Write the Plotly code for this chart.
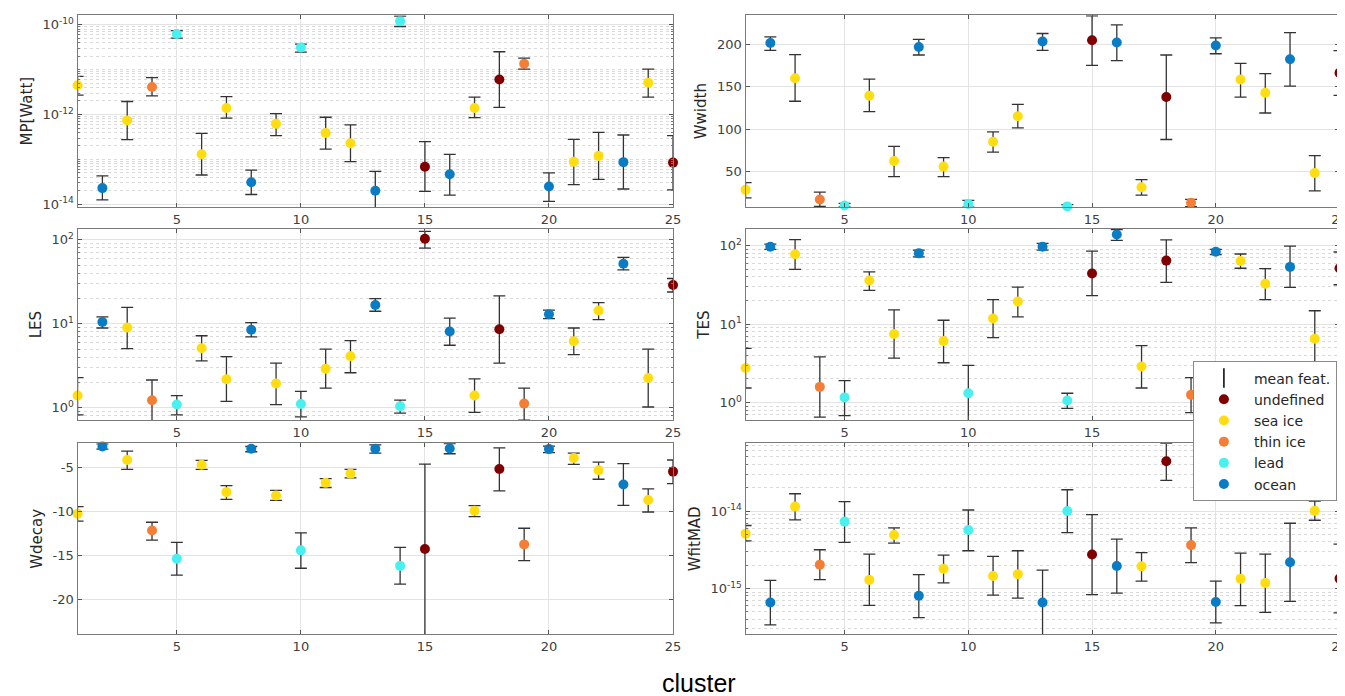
import plotly.graph_objects as go

CLUSTERS = list(range(1, 26))
CLASS = ["sea ice", "ocean", "sea ice", "thin ice", "lead", "sea ice", "sea ice", "ocean",
         "sea ice", "lead", "sea ice", "sea ice", "ocean", "lead", "undefined", "ocean",
         "sea ice", "undefined", "thin ice", "ocean", "sea ice", "sea ice", "ocean",
         "sea ice", "undefined"]
CLASS_ORDER = ["undefined", "sea ice", "thin ice", "lead", "ocean"]
CLASS_COLORS = {"undefined": "#800000", "sea ice": "#FFDD11", "thin ice": "#F47E36",
                "lead": "#48F0F0", "ocean": "#0A7CC4"}

MP_MEAN = [4.5e-12, 2.3e-14, 7.4e-13, 4.1e-12, 6.2e-11, 1.3e-13, 1.4e-12, 3.1e-14, 6.2e-13,
           3.1e-11, 3.9e-13, 2.3e-13, 2.0e-14, 1.2e-10, 6.9e-14, 4.7e-14, 1.4e-12, 6.0e-12,
           1.35e-11, 2.5e-14, 8.9e-14, 1.2e-13, 8.7e-14, 5.1e-12, 8.5e-14]
MP_UP = [7.1e-12, 4.3e-14, 1.95e-12, 6.6e-12, 7.4e-11, 3.8e-13, 2.5e-12, 5.8e-14, 1.05e-12,
         3.7e-11, 8.7e-13, 5.9e-13, 5.4e-14, 1.55e-10, 2.5e-13, 1.3e-13, 2.45e-12, 2.5e-11,
         1.8e-11, 5.0e-14, 2.8e-13, 4.0e-13, 3.5e-13, 1.02e-11, 3.4e-13]
MP_LO = [2.7e-12, 1.26e-14, 2.75e-13, 2.6e-12, 5.0e-11, 4.5e-14, 8.3e-13, 1.66e-14, 3.4e-13,
         2.45e-11, 1.7e-13, 8.9e-14, 7.9e-15, 9.1e-11, 1.95e-14, 1.6e-14, 8.5e-13, 1.45e-12,
         1.02e-11, 1.17e-14, 2.75e-14, 3.6e-14, 2.2e-14, 2.45e-12, 2.1e-14]

WWIDTH_MEAN = [28.5, 201.6, 160.2, 17.2, 10, 139.5, 62.5, 196.9, 55.9, 11.7, 85.2, 115.2, 203.5,
               9, 205, 202.3, 31.6, 137.9, 13.3, 198.8, 158.6, 143, 182.4, 48.4, 166.4]
WWIDTH_UP = [37, 209, 188, 25.8, 12.5, 159, 79.7, 206, 66.4, 16, 96.9, 129.3, 212.9,
             11, 233.6, 223, 40.6, 187.5, 17.2, 207.8, 177.7, 165.6, 214, 68.8, 192.6]
WWIDTH_LO = [19, 193, 133, 9, 8.5, 120.7, 44, 187.5, 44, 8.2, 73, 101.6, 193,
             7.5, 175.4, 181, 22.3, 87.9, 8.6, 189, 137.9, 119.1, 150.8, 27.3, 139.8]

LES_MEAN = [1.40, 10.5, 9.0, 1.23, 1.09, 5.1, 2.18, 8.5, 1.94, 1.11, 2.92, 4.1, 16.7, 1.04, 103,
            8.1, 1.40, 8.6, 1.12, 13.0, 6.2, 14.4, 52, 2.26, 28.9]
LES_UP = [2.28, 12.1, 15.7, 2.14, 1.39, 7.2, 4.07, 10.3, 3.4, 1.57, 4.98, 6.3, 19.9, 1.23, 126,
          11.7, 2.2, 21.5, 1.71, 14.5, 8.9, 17.9, 61.8, 4.98, 34.6]
LES_LO = [0.82, 8.9, 5.07, 0.70, 0.82, 3.62, 1.19, 6.97, 1.09, 0.78, 1.71, 2.61, 14.1, 0.86, 79.4,
          5.55, 0.88, 3.4, 0.71, 11.5, 4.3, 11.2, 43.9, 1.02, 23.9]

TES_MEAN = [2.75, 97, 78, 1.58, 1.16, 36.1, 7.46, 80, 6.1, 1.31, 11.8, 19.4, 97, 1.06, 44.3,
            139, 2.88, 64.6, 1.25, 84, 64, 32.7, 53.7, 6.5, 51.6]
TES_UP = [4.9, 105, 120, 3.82, 1.9, 46.5, 15.2, 88, 11.2, 2.97, 20.5, 29.7, 107, 1.31, 85.5,
          161, 5.3, 119, 2.07, 90, 78.5, 51.2, 99, 14.8, 83.2]
TES_LO = [1.53, 90, 50, 0.65, 0.68, 26.9, 3.67, 72, 3.21, 0.58, 6.71, 12.4, 88, 0.84, 23.1,
          117, 1.53, 34, 0.74, 77, 51.6, 20.5, 29.4, 2.88, 31.8]

WDECAY_MEAN = [-10.24, -2.59, -4.13, -12.16, -15.37, -4.66, -7.79, -2.85, -8.17, -14.42, -6.73,
               -5.68, -2.85, -16.19, -14.27, -2.81, -9.9, -5.15, -13.74, -2.89, -3.91, -5.3,
               -6.92, -8.69, -5.45]
WDECAY_UP = [-9.45, -2.29, -3.12, -11.22, -13.52, -4.17, -7.04, -2.59, -7.6, -12.43, -6.24,
             -5.19, -2.4, -14.08, -4.59, -2.25, -9.33, -2.74, -11.9, -2.55, -3.34, -4.36,
             -4.55, -7.41, -4.13]
WDECAY_LO = [-11.1, -2.89, -5.19, -13.25, -17.25, -5.19, -8.62, -3.19, -8.73, -16.46, -7.26,
             -6.17, -3.34, -18.27, -24.07, -3.42, -10.58, -7.64, -15.59, -3.30, -4.62, -6.32,
             -9.3, -10.05, -6.81]

WFIT_MEAN = [5.1e-15, 6.6e-16, 1.14e-14, 2.03e-15, 7.3e-15, 1.29e-15, 4.9e-15, 8.05e-16, 1.8e-15,
             5.7e-15, 1.45e-15, 1.53e-15, 6.6e-16, 1.0e-14, 2.75e-15, 1.95e-15, 1.93e-15,
             4.38e-14, 3.63e-15, 6.7e-16, 1.33e-15, 1.18e-15, 2.18e-15, 1.01e-14, 1.34e-15]
WFIT_UP = [6.5e-15, 1.27e-15, 1.67e-14, 3.16e-15, 1.32e-14, 2.78e-15, 6.05e-15, 1.51e-15, 2.7e-15,
           1.03e-14, 2.6e-15, 3.07e-15, 1.72e-15, 1.88e-14, 8.97e-15, 4.34e-15, 2.9e-15,
           7.45e-14, 6.05e-15, 1.24e-15, 2.86e-15, 2.78e-15, 6.95e-15, 1.34e-14, 3.74e-15]
WFIT_LO = [4.12e-15, 3.39e-16, 7.7e-15, 1.3e-15, 3.93e-15, 6.05e-16, 3.85e-15, 4.2e-16, 1.18e-15,
           3.07e-15, 8.2e-16, 7.5e-16, 2.5e-16, 5.27e-15, 8.3e-16, 8.7e-16, 1.24e-15,
           2.49e-14, 2.15e-15, 3.6e-16, 6.0e-16, 4.9e-16, 6.8e-16, 7.6e-15, 4.83e-16]

X_TICKS = [5, 10, 15, 20, 25]

# panel specs: title, mean, up, lo, log?, range, tickvals, ticktext
PANELS = [
    ("MP[Watt]", MP_MEAN, MP_UP, MP_LO, True, [-14.06, -9.79],
     [1e-14, 1e-12, 1e-10], ["10<sup>-14</sup>", "10<sup>-12</sup>", "10<sup>-10</sup>"]),
    ("Wwidth", WWIDTH_MEAN, WWIDTH_UP, WWIDTH_LO, False, [8.2, 234.4],
     [50, 100, 150, 200], ["50", "100", "150", "200"]),
    ("LES", LES_MEAN, LES_UP, LES_LO, True, [-0.15, 2.13],
     [1, 10, 100], ["10<sup>0</sup>", "10<sup>1</sup>", "10<sup>2</sup>"]),
    ("TES", TES_MEAN, TES_UP, TES_LO, True, [-0.228, 2.215],
     [1, 10, 100], ["10<sup>0</sup>", "10<sup>1</sup>", "10<sup>2</sup>"]),
    ("Wdecay", WDECAY_MEAN, WDECAY_UP, WDECAY_LO, False, [-24.0, -2.21],
     [-20, -15, -10, -5], ["-20", "-15", "-10", "-5"]),
    ("WfitMAD", WFIT_MEAN, WFIT_UP, WFIT_LO, True, [-15.594, -13.124],
     [1e-15, 1e-14], ["10<sup>-15</sup>", "10<sup>-14</sup>"]),
]

W, H = 1345, 696
XDOM = [[70 / W, 669 / W], [742 / W, 1339.5 / W]]
YPIX = [(7.3, 200.5), (222.5, 415.3), (438.3, 631)]
YDOM = [[1 - b / H, 1 - t / H] for (t, b) in YPIX]

TICKFONT = dict(family="DejaVu Sans", size=13, color="#404040")
TITLEFONT = dict(family="DejaVu Sans", size=15, color="#262626")
ERRCOL = "#333333"

fig = go.Figure()
layout = {}

for i, (title, mean, up, lo, is_log, yr, tv, tt) in enumerate(PANELS):
    row, col = divmod(i, 2)
    n = i + 1
    xa = "x" if n == 1 else f"x{n}"
    ya = "y" if n == 1 else f"y{n}"
    eplus = [u - m for u, m in zip(up, mean)]
    eminus = [m - l for m, l in zip(mean, lo)]
    # error bars (mean feat.)
    fig.add_trace(go.Scatter(
        x=CLUSTERS, y=mean, mode="markers", xaxis=xa, yaxis=ya,
        marker=dict(size=1, color="rgba(0,0,0,0)"),
        error_y=dict(type="data", symmetric=False, array=eplus, arrayminus=eminus,
                     color=ERRCOL, thickness=1.3, width=6),
        showlegend=False, cliponaxis=False, hoverinfo="skip"))
    for cls in CLASS_ORDER:
        xs = [c for c, k in zip(CLUSTERS, CLASS) if k == cls]
        ys = [m for m, k in zip(mean, CLASS) if k == cls]
        fig.add_trace(go.Scatter(
            x=xs, y=ys, mode="markers", xaxis=xa, yaxis=ya, name=cls,
            marker=dict(size=10, color=CLASS_COLORS[cls]),
            showlegend=False, cliponaxis=False))
    axis_common = dict(showline=True, linecolor="#7a7a7a", linewidth=1.3, mirror="ticks",
                       ticks="inside", ticklen=4, tickcolor="#555555", zeroline=False,
                       showgrid=True, gridcolor="#e3e3e3", gridwidth=1, tickfont=TICKFONT)
    layout["xaxis" if n == 1 else f"xaxis{n}"] = dict(
        axis_common, domain=XDOM[col], range=[1, 25], tickvals=X_TICKS,
        anchor=ya)
    yax = dict(axis_common, domain=YDOM[row], range=yr, tickvals=tv, ticktext=tt,
               anchor=xa, title=dict(text=title, font=TITLEFONT, standoff=6))
    if is_log:
        yax["type"] = "log"
        yax["minor"] = dict(dtick="D1", showgrid=True, gridcolor="#dadada", griddash="dot",
                            ticks="inside", ticklen=2, tickcolor="#777777")
    layout["yaxis" if n == 1 else f"yaxis{n}"] = yax

# legend entries
fig.add_trace(go.Scatter(x=[None], y=[None], mode="markers", name="mean feat.",
                         marker=dict(symbol="line-ns-open", size=14, color="black",
                                     line=dict(width=1.5, color="black"))))
for cls in CLASS_ORDER:
    fig.add_trace(go.Scatter(x=[None], y=[None], mode="markers", name=cls,
                             marker=dict(size=10, color=CLASS_COLORS[cls])))

fig.update_layout(
    width=W, height=H, margin=dict(l=0, r=0, t=0, b=0),
    paper_bgcolor="white", plot_bgcolor="white",
    showlegend=True,
    legend=dict(x=1192 / W, y=1 - 356 / H, xanchor="left", yanchor="top",
                bgcolor="white", bordercolor="#8a8a8a", borderwidth=1,
                font=dict(family="DejaVu Sans", size=14, color="#262626"),
                itemwidth=50, tracegroupgap=0),
    annotations=[dict(text="cluster", x=695 / W, y=1 - 680 / H, xref="paper", yref="paper",
                      showarrow=False, xanchor="center", yanchor="middle",
                      font=dict(family="Liberation Sans", size=25, color="black"))],
    **layout)

fig.write_html("out.html")
